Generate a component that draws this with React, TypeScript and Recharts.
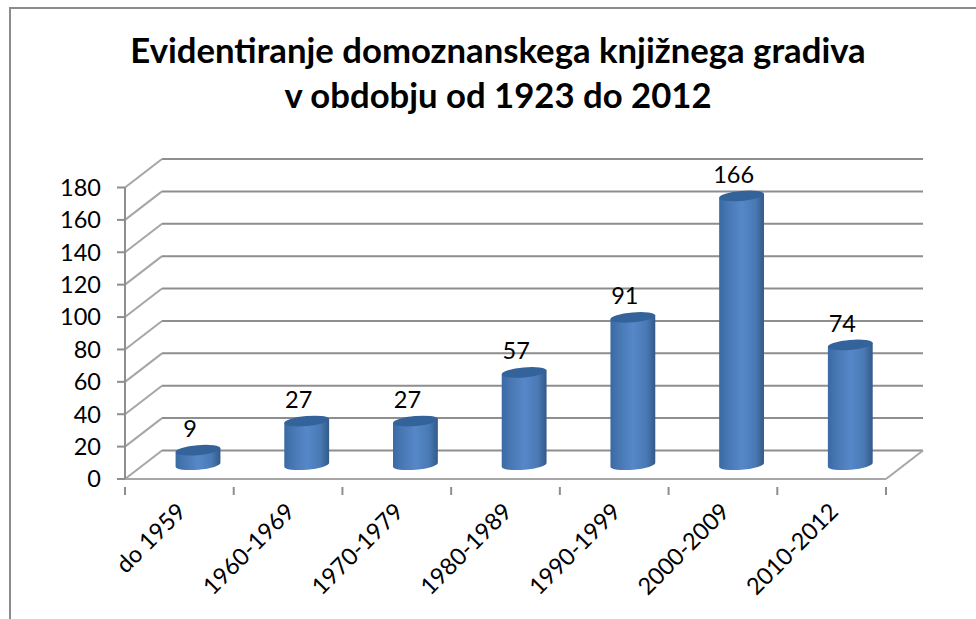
import { BarChart, Bar, XAxis, YAxis, CartesianGrid, LabelList } from 'recharts';

const periods = ['do 1959', '1960-1969', '1970-1979', '1980-1989', '1990-1999', '2000-2009', '2010-2012'];
const counts = [9, 27, 27, 57, 91, 166, 74];
const yTicks = [0, 20, 40, 60, 80, 100, 120, 140, 160, 180];
const titleLines = ['Evidentiranje domoznanskega knjižnega gradiva', 'v obdobju od 1923 do 2012'];

const chartData = periods.map((period, i) => ({ period, count: counts[i] }));

const FONT = 'Lato, Carlito, sans-serif';
const GRID = '#8e8e8e';
// depth of the fake 3D box
const DEPTH_X = 37;
const DEPTH_Y = 28.5;
const RX = 22.5;
const RY = 5;
const TILT = -5;

function GridLine({ x1, y1, x2, y2, index }: any) {
  const isFloor = index === 0 || y1 > 470;
  return (
    <g fill="none" strokeWidth={2}>
      <path d={`M${x1},${y1}L${x1 + DEPTH_X},${y1 - DEPTH_Y}`} stroke="#a6a6a6" />
      <path d={`M${x1 + DEPTH_X},${y1 - DEPTH_Y}L${x2 + DEPTH_X},${y2 - DEPTH_Y}`} stroke={GRID} />
      {isFloor && <path d={`M${x2},${y2}L${x2 + DEPTH_X},${y2 - DEPTH_Y}`} stroke="#a6a6a6" />}
    </g>
  );
}

function Cylinder({ x, y, width, height }: any) {
  const cx = x + width / 2 + DEPTH_X / 2;
  const top = y - DEPTH_Y / 2;
  const bottom = y + height - DEPTH_Y / 2;
  const rad = (TILT * Math.PI) / 180;
  const ex = RX * Math.cos(rad);
  const ey = RX * Math.sin(rad);
  const body = `M${cx - ex},${top - ey}L${cx - ex},${bottom - ey}A${RX},${RY} ${TILT} 0 0 ${cx + ex},${bottom + ey}L${cx + ex},${top + ey}Z`;
  return (
    <g>
      <path d={body} fill="url(#cylinderBody)" />
      <ellipse cx={cx} cy={top} rx={RX} ry={RY} fill="#33639a" transform={`rotate(${TILT} ${cx} ${top})`} />
    </g>
  );
}

function CountLabel({ x, y, width, value }: any) {
  return (
    <text x={x + width / 2 + DEPTH_X / 2 - 8} y={y - DEPTH_Y / 2 - 13} textAnchor="middle" fontFamily={FONT} fontSize={23.5} fill="#000">
      {value}
    </text>
  );
}

function PeriodTick({ x, y, payload, index, width }: any) {
  const step = width / periods.length;
  return (
    <g>
      <line x1={x - step / 2} x2={x - step / 2} y1={y} y2={y + 8} stroke={GRID} strokeWidth={2} />
      {index === periods.length - 1 && (
        <line x1={x + step / 2} x2={x + step / 2} y1={y} y2={y + 8} stroke={GRID} strokeWidth={2} />
      )}
      <text
        x={x + 8}
        y={y + 26}
        textAnchor="end"
        fontFamily={FONT}
        fontSize={23.5}
        fill="#000"
        transform={`rotate(-45 ${x + 8} ${y + 26})`}
      >
        {payload.value}
      </text>
    </g>
  );
}

export default function App() {
  return (
    <div style={{ position: 'absolute', left: 0, top: 0, width: 976, height: 619, background: '#fff', overflow: 'hidden' }}>
      <div style={{ position: 'absolute', left: 9, top: 7, width: 1000, height: 640, border: '2px solid #8c8c8c', boxSizing: 'border-box' }} />
      <BarChart
        width={976}
        height={619}
        data={chartData}
        margin={{ top: 187.5, right: 90, bottom: 30, left: 0 }}
        style={{ position: 'absolute', left: 0, top: 0 }}
      >
        <defs>
          <linearGradient id="cylinderBody" x1="0" y1="0" x2="1" y2="0">
            <stop offset="0%" stopColor="#3a6aa3" />
            <stop offset="20%" stopColor="#4877b4" />
            <stop offset="50%" stopColor="#5687c8" />
            <stop offset="80%" stopColor="#4a7ab5" />
            <stop offset="100%" stopColor="#335a88" />
          </linearGradient>
        </defs>
        {titleLines.map((line, i) => (
          <text key={line} x={498} y={63 + i * 45} textAnchor="middle" fontFamily={FONT} fontWeight={700} fontSize={34.7} fill="#000">
            {line}
          </text>
        ))}
        <CartesianGrid vertical={false} horizontal={(props: any) => <GridLine key={props.index} {...props} />} />
        <XAxis
          dataKey="period"
          interval={0}
          height={110}
          stroke="#a6a6a6"
          strokeWidth={2}
          tickLine={false}
          tick={<PeriodTick />}
        />
        <YAxis
          width={125}
          domain={[0, 180]}
          ticks={yTicks}
          tickSize={8}
          tickMargin={16}
          stroke={GRID}
          strokeWidth={2}
          tick={{ fontFamily: FONT, fontSize: 23.5, fill: '#000' }}
        />
        <Bar dataKey="count" barSize={45} shape={<Cylinder />} isAnimationActive={false}>
          <LabelList dataKey="count" content={<CountLabel />} />
        </Bar>
      </BarChart>
    </div>
  );
}
